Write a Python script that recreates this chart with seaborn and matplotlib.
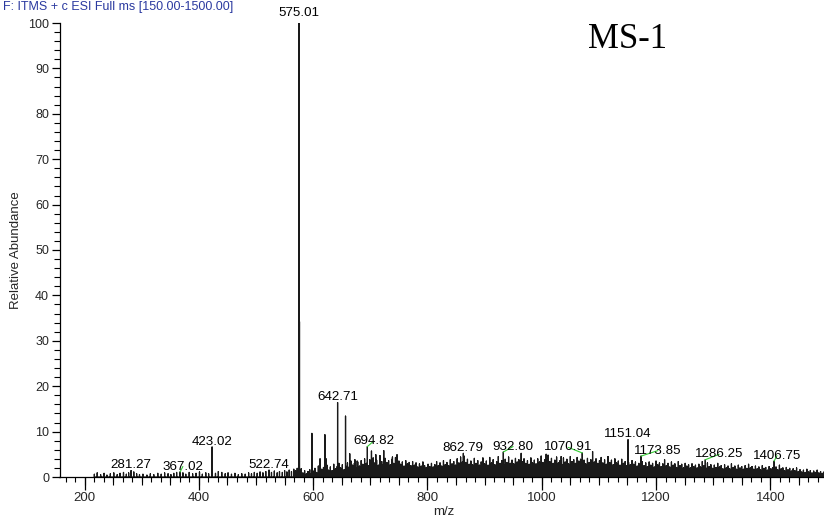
import numpy as np
import pandas as pd
import matplotlib
matplotlib.use("Agg")
import matplotlib.pyplot as plt
from matplotlib.ticker import MultipleLocator
import seaborn as sns

# ---------------- data ----------------
# labelled peaks
label_mz = [281.27, 367.02, 423.02, 522.74, 575.01, 642.71, 694.82, 862.79,
            932.80, 1070.91, 1151.04, 1173.85, 1286.25, 1406.75]
label_int = [1.4, 1.1, 6.6, 1.5, 100.0, 16.4, 6.7, 5.2,
             5.5, 5.3, 8.2, 4.6, 3.8, 3.5]
label_text = ["281.27", "367.02", "423.02", "522.74", "575.01", "642.71", "694.82",
              "862.79", "932.80", "1070.91", "1151.04", "1173.85", "1286.25", "1406.75"]

# other prominent, unlabelled peaks
extra_mz = [576.0, 597.7, 612.0, 620.5, 622.5, 656.6, 664.0, 673.0, 677.0,
            702.0, 709.6, 716.5, 723.5, 738.7, 746.7, 964.0, 1007.7, 1034.0, 1089.0]
extra_int = [34.2, 9.6, 4.0, 9.3, 4.0, 13.4, 5.1, 3.8, 3.5,
             5.7, 4.9, 4.7, 5.8, 4.4, 4.9, 5.2, 5.0, 4.5, 5.6]

# low-mass noise
low_mz = [217, 222, 228, 234, 239, 245, 251, 257, 262, 268, 273, 277, 286, 291, 296,
          302, 309, 315, 321, 328, 334, 340, 346, 351, 356, 361, 372, 377, 383, 389,
          395, 401, 406, 412, 417, 429, 434, 440, 446, 451, 457, 463, 469, 475, 481,
          487, 492, 497, 502, 507, 512, 517, 527, 532, 537, 541, 546, 550, 554, 558,
          562, 566, 569, 572]
low_int = [0.6, 0.9, 0.5, 0.8, 0.4, 0.7, 0.9, 0.5, 0.8, 1.0, 0.6, 0.9, 1.1, 0.7, 0.5,
           0.6, 0.4, 0.7, 0.5, 0.8, 0.6, 0.9, 0.7, 0.5, 0.8, 1.0, 0.9, 0.6, 1.0, 0.7,
           0.8, 1.1, 0.6, 0.9, 0.7, 0.8, 1.2, 1.0, 0.7, 0.9, 0.6, 0.8, 0.5, 0.7, 0.6,
           0.9, 0.7, 1.0, 0.8, 1.1, 0.9, 1.2, 1.0, 1.3, 0.9, 1.2, 1.0, 1.4, 1.1, 1.5,
           1.2, 1.7, 1.4, 1.9]

# dense noise above m/z 579, one value every 3 m/z, per segment
noise_step = 3
noise_starts = [579, 678, 777, 876, 975, 1074, 1173, 1272, 1371]
noise_579 = [1.8, 0.9, 1.4, 0.7, 1.2, 1.6, 0.8, 1.3, 1.9, 1.0, 2.4, 1.2, 1.7, 2.1, 1.1, 2.6, 1.5,
             2.2, 1.4, 2.8, 1.8, 2.3, 3.0, 2.0, 2.7, 1.6, 2.4, 3.1, 2.2, 3.5, 2.6, 3.0, 2.0]
noise_678 = [3.3, 2.4, 3.6, 2.8, 4.0, 3.0, 2.5, 3.8, 2.9, 4.2, 3.1, 3.7, 2.6, 4.6, 3.4, 2.8, 4.1,
             3.2, 3.6, 2.7, 3.9, 3.0, 4.3, 2.6, 3.5, 2.8, 3.3, 2.4, 3.6, 2.9, 3.2, 2.5, 3.4]
noise_777 = [2.6, 3.1, 2.2, 2.9, 2.4, 3.3, 2.5, 2.1, 2.8, 2.3, 3.0, 2.2, 2.7, 3.4, 2.5, 3.1, 2.4,
             3.6, 2.7, 3.2, 2.5, 3.8, 2.9, 3.4, 2.6, 4.0, 3.1, 4.4, 3.3, 4.6, 3.2, 3.9, 2.8]
noise_876 = [3.5, 2.7, 4.1, 3.0, 3.6, 2.6, 3.3, 4.2, 2.9, 3.5, 2.6, 4.3, 3.1, 3.8, 2.7, 3.4, 4.5,
             3.0, 3.6, 2.8, 3.9, 3.2, 4.4, 3.0, 3.7, 2.9, 4.1, 3.3, 3.8, 3.5, 3.4, 4.0, 3.0]
noise_975 = [3.6, 2.8, 4.2, 3.1, 3.7, 2.9, 4.0, 3.3, 4.6, 3.2, 3.8, 2.9, 4.8, 3.4, 4.1, 3.0, 3.7,
             4.4, 3.1, 3.6, 2.8, 4.2, 3.3, 3.9, 2.9, 4.5, 3.4, 3.8, 3.0, 4.3, 3.5, 3.9, 3.1]
noise_1074 = [3.7, 2.9, 4.1, 3.2, 3.8, 3.4, 3.3, 4.0, 3.0, 3.6, 4.3, 3.1, 3.8, 2.8, 4.5, 3.2, 3.7,
              2.7, 4.0, 3.1, 3.5, 2.6, 3.9, 3.0, 3.4, 2.5, 3.2, 2.7, 3.6, 2.8, 3.3, 2.4, 3.0]
noise_1173 = [2.6, 3.4, 2.5, 3.1, 2.3, 3.3, 2.6, 3.0, 2.2, 3.5, 2.7, 3.1, 2.3, 2.9, 3.8, 2.5, 3.0,
              2.2, 3.3, 2.6, 2.9, 2.1, 3.4, 2.5, 2.8, 2.0, 3.0, 2.4, 2.7, 2.0, 2.9, 2.3, 2.6]
noise_1272 = [2.0, 2.8, 2.2, 3.4, 2.5, 2.0, 3.1, 2.3, 2.7, 1.9, 2.6, 2.1, 3.0, 2.2, 2.5, 1.8, 2.7,
              2.0, 2.4, 1.8, 2.9, 2.1, 2.4, 1.7, 2.6, 2.0, 2.3, 1.7, 2.5, 1.9, 2.8, 2.0, 2.3]
noise_1371 = [1.7, 2.4, 1.8, 2.2, 1.6, 2.5, 1.9, 2.1, 1.5, 2.3, 1.8, 2.0, 1.5, 2.2, 1.6, 2.6, 1.8,
              2.0, 1.4, 2.1, 1.6, 1.9, 1.3, 1.8, 1.4, 2.0, 1.2, 1.6, 1.1, 1.5, 1.0, 1.7, 1.1,
              1.4, 0.9, 1.3, 1.0, 1.5, 0.9, 1.2, 0.8, 1.1]
noise_segments = [noise_579, noise_678, noise_777, noise_876, noise_975,
                  noise_1074, noise_1173, noise_1272, noise_1371]

# label placement tweaks (points): horizontal shift of label, vertical gap
label_dx = [0, 2, 0, 0, 0, 0, 4.5, 0, 7, -10, 0, 12, 10, 2]
label_dy = [1.8, 1.8, 1.8, 1.8, 5.0, 1.8, 1.8, 1.8, 1.8, 1.8, 1.8, 1.8, 1.8, 1.8]

x_ticks = [200, 400, 600, 800, 1000, 1200, 1400]
y_ticks = [0, 10, 20, 30, 40, 50, 60, 70, 80, 90, 100]

# ---------------- build stick table ----------------
mz_all = list(label_mz) + list(extra_mz) + list(low_mz)
int_all = list(label_int) + list(extra_int) + list(low_int)
for start, seg in zip(noise_starts, noise_segments):
    mz_all += list(start + noise_step * np.arange(len(seg)))
    int_all += list(seg)
peaks = pd.DataFrame({"mz": mz_all, "intensity": int_all}).sort_values("mz")

rows = []
for i, (m, h) in enumerate(zip(peaks["mz"], peaks["intensity"])):
    rows += [(m, 0.0, 3 * i), (m, h, 3 * i + 1), (m, 0.0, 3 * i + 2)]
stick = pd.DataFrame(rows, columns=["mz", "intensity", "order"]).sort_values("order")

# ---------------- plot ----------------
sns.set_style("ticks")
plt.rcParams["font.family"] = ["Liberation Sans", "DejaVu Sans"]

fig = plt.figure(figsize=(8.24, 5.24), dpi=100)
ax = fig.add_axes([59.5 / 824, 1 - 477 / 524, 1 - 59.5 / 824, (477 - 23) / 524])

sns.lineplot(data=stick, x="mz", y="intensity", sort=False, estimator=None,
             color="#1a1a1a", linewidth=0.9, ax=ax)

ax.set_xlim(156, 1494)
ax.set_ylim(0, 100)
for s in ["top", "right"]:
    ax.spines[s].set_visible(False)
for s in ["left", "bottom"]:
    ax.spines[s].set_linewidth(0.9)
    ax.spines[s].set_color("black")

ax.set_xticks(x_ticks)
ax.set_yticks(y_ticks)
ax.xaxis.set_minor_locator(MultipleLocator(50 / 3))
ax.yaxis.set_minor_locator(MultipleLocator(2))
ax.tick_params(axis="x", which="major", length=9, width=0.9, direction="out",
               labelsize=9.5, pad=2, color="black")
ax.tick_params(axis="x", which="minor", length=3.5, width=0.8, direction="out", color="black")
ax.tick_params(axis="y", which="major", length=6, width=0.9, direction="out",
               labelsize=9, pad=1.5, color="black")
ax.tick_params(axis="y", which="minor", length=4, width=0.8, direction="out", color="black")

sec = ax.secondary_xaxis("bottom")
sec.set_xticks(np.arange(200, 1500, 50))
sec.tick_params(axis="x", length=6, width=0.8, direction="out", labelbottom=False, color="black")
sec.spines["bottom"].set_visible(False)

ax.set_xlabel("m/z", fontsize=9.5)
ax.set_ylabel("Relative Abundance", fontsize=9.5)
ax.xaxis.set_label_coords((444 - 59.5) / 764.5, (477 - 506) / 454)
ax.yaxis.set_label_coords((22 - 59.5) / 764.5, 0.5)

for m, h, t, dx, dy in zip(label_mz, label_int, label_text, label_dx, label_dy):
    arrow = None
    if dx != 0:
        arrow = dict(arrowstyle="-", color="#33cc33", lw=0.8, shrinkA=0, shrinkB=0)
    ax.annotate(t, xy=(m, h), xytext=(dx, dy), textcoords="offset points",
                ha="center", va="baseline", fontsize=9.6, color="black",
                arrowprops=arrow, annotation_clip=False)

fig.text(3 / 824, 1 - 10 / 524, "F: ITMS + c ESI Full ms [150.00-1500.00]",
         color="#2b3aa0", fontsize=9, ha="left", va="baseline")
fig.text(588 / 824, 1 - 48 / 524, "MS-1", family=["Liberation Serif", "DejaVu Serif"],
         fontsize=25, ha="left", va="baseline", color="black")

fig.savefig("out.png", dpi=100)
